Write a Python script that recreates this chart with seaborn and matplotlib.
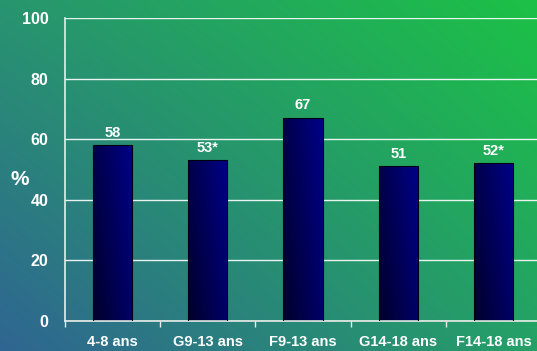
import numpy as np
import matplotlib
matplotlib.use("Agg")
import matplotlib.pyplot as plt
import seaborn as sns
from matplotlib.colors import LinearSegmentedColormap, to_rgb

# Data
groups = ["4-8 ans", "G9-13 ans", "F9-13 ans", "G14-18 ans", "F14-18 ans"]
percent = [58, 53, 67, 51, 52]
value_labels = ["58", "53*", "67", "51", "52*"]
y_ticks = [0, 20, 40, 60, 80, 100]

sns.set_theme(style="white")
plt.rcParams["font.family"] = ["Liberation Sans", "DejaVu Sans"]
plt.rcParams["font.weight"] = "bold"

W, H = 537, 351
fig = plt.figure(figsize=(W / 100, H / 100), dpi=100)

# Background shading, blended between four corner colours
bg = fig.add_axes([0, 0, 1, 1], zorder=0)
bg.axis("off")
yy, xx = np.mgrid[0:1:H * 1j, 0:1:W * 1j]   # yy = 0 at the top row
tl = np.array(to_rgb("#28956f"))
tr = np.array(to_rgb("#1cc146"))
bl = np.array(to_rgb("#2f6592"))
br = np.array(to_rgb("#25a067"))
xs, ys = xx[..., None], yy[..., None]
img = (tl * (1 - xs) * (1 - ys) + tr * xs * (1 - ys)
       + bl * (1 - xs) * ys + br * xs * ys)
bg.imshow(img, aspect="auto", extent=[0, 1, 0, 1])
bg.set_xlim(0, 1)
bg.set_ylim(0, 1)

ax = fig.add_axes([65 / W, 30 / H, 476 / W, 303 / H], zorder=1)
ax.patch.set_alpha(0)

sns.barplot(x=groups, y=percent, ax=ax, width=0.41, color="#000080",
            saturation=1, edgecolor="#000010", linewidth=0.8, zorder=3)

# Shaded fill for each bar
bar_cmap = LinearSegmentedColormap.from_list("navy", ["#00002a", "#000088"])
gy, gx = np.mgrid[1:0:64j, 0:1:64j]
grad = 0.65 * gx + 0.35 * gy
for patch in ax.patches:
    x0, y0 = patch.get_x(), patch.get_y()
    bw, bh = patch.get_width(), patch.get_height()
    im = ax.imshow(grad, cmap=bar_cmap, aspect="auto", vmin=0, vmax=1,
                   extent=[x0, x0 + bw, y0, y0 + bh], zorder=2.5)
    im.set_clip_path(patch)
    patch.set_facecolor("none")

ax.bar_label(ax.containers[0], labels=value_labels, padding=4,
             color="white", fontsize=10.5, fontweight="bold")

ax.set_xlim(-0.5, len(groups) - 0.5)
ax.set_ylim(0, 100)
ax.set_yticks(y_ticks)
ax.yaxis.grid(True, color="white", linewidth=1, alpha=0.9)
ax.set_axisbelow(True)

for side in ["top", "right"]:
    ax.spines[side].set_visible(False)
for side in ["left", "bottom"]:
    ax.spines[side].set_color("#e8eee8")
    ax.spines[side].set_linewidth(1.2)

ax.set_xticks(np.arange(len(groups)))
ax.set_xticks(np.arange(len(groups) + 1) - 0.5, minor=True)
ax.tick_params(axis="x", which="major", length=0, pad=10,
               labelsize=10.5, labelcolor="white")
ax.tick_params(axis="x", which="minor", length=4, width=1,
               color="#e8eee8", direction="out", bottom=True)
ax.tick_params(axis="y", length=0, pad=12, labelsize=11.5, labelcolor="white")
ax.set_xlabel("")
ax.set_ylabel("")

fig.text(20 / W, 1 - 180 / H, "%", color="white", fontsize=15,
         fontweight="bold", ha="center", va="center")

fig.savefig("out.png", dpi=100)
